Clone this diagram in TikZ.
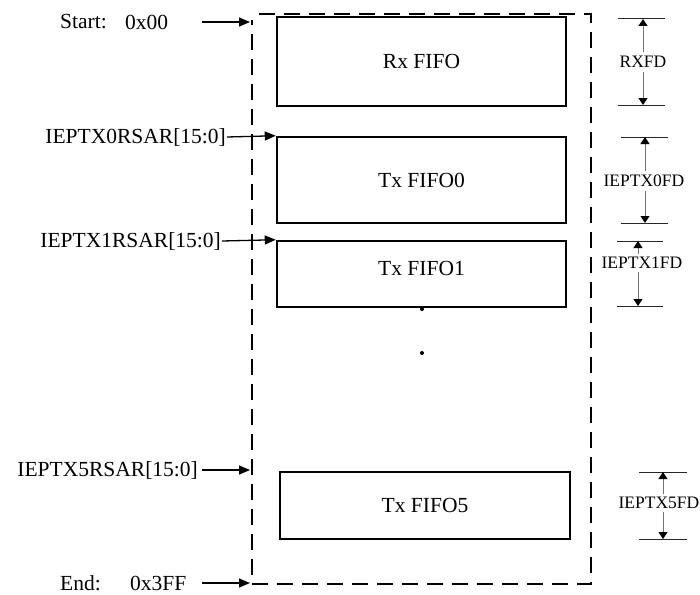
\documentclass[tikz,border=0pt]{standalone}
\usepackage{fontspec}
\setmainfont{Liberation Serif}
\usetikzlibrary{arrows.meta}
\begin{document}
\begin{tikzpicture}[x=1pt,y=-1pt,
  big/.style={font=\fontsize{21.5}{24}\selectfont},
  small/.style={font=\fontsize{17.5}{20}\selectfont},
  fifo/.style={draw, line width=2.5pt, big, inner sep=0pt},
  addr/.style={big, inner sep=1pt},
  frame/.style={line width=2.8pt, dash pattern=on 16pt off 9pt},
  ptr/.style={line width=1.3pt, -{Triangle[length=11pt,width=9pt]}},
  dimline/.style={line width=1pt, black!85},
  dimarr/.style={line width=1pt, black!55, -{Triangle[length=7pt,width=9pt,color=black]}},
  dimlab/.style={small, inner sep=4pt}]
\useasboundingbox (0,0) rectangle (700,594);

% dashed frame
\draw[frame] (259,14) -- (591,14) -- (591,584) -- (252,584) -- (252,20);

% FIFO boxes
\node[fifo, minimum width=289pt, minimum height=89pt] (rx) at (421.5,61.5) {Rx FIFO};
\node[fifo, minimum width=289pt, minimum height=86pt] (tx0) at (421.5,180) {Tx FIFO0};
\node[fifo, minimum width=289pt, minimum height=66pt] (tx1) at (421.5,274) {};
\node[big] (tx1t) at (421.5,268) {Tx FIFO1};
\node[fifo, minimum width=290pt, minimum height=67pt] (tx5) at (425,505.5) {Tx FIFO5};

% dots
\fill (422,309) circle (2pt) coordinate (d1);
\fill (422,353) circle (2pt) coordinate (d2);

% left labels and arrows
\node[addr, anchor=west] (st1) at (59,22) {Start:};
\node[addr, anchor=west] (st2) at (124,22) {0x00};
\coordinate (stA) at (202,22);
\coordinate (stB) at (250,22);
\draw[ptr] (stA) -- (stB);

\node[addr, anchor=east] (l0) at (227,137) {IEPTX0RSAR[15:0]};
\draw[ptr] (l0.east) -- (tx0.north west);

\node[addr, anchor=east] (l1) at (222,241) {IEPTX1RSAR[15:0]};
\draw[ptr] (l1.east) -- (tx1.north west);

\node[addr, anchor=east] (l5) at (199,470) {IEPTX5RSAR[15:0]};
\coordinate (l5B) at (250,470);
\draw[ptr] (l5.east) ++(3,0) -- (l5B);

\node[addr, anchor=west] (en1) at (59,583) {End:};
\node[addr, anchor=west] (en2) at (129,583) {0x3FF};
\coordinate (enA) at (202,583);
\coordinate (enB) at (250,583);
\draw[ptr] (enA) -- (enB);

% dimension markers
% RXFD
\coordinate (r1a) at (618,19); \coordinate (r1b) at (665,19);
\coordinate (r2a) at (618,105); \coordinate (r2b) at (665,105);
\draw[dimline] (r1a) -- (r1b);
\draw[dimline] (r2a) -- (r2b);
\node[dimlab] (rxfd) at (643,62) {RXFD};
\draw[dimarr] (rxfd.north) -- (643,19);
\draw[dimarr] (rxfd.south) -- (643,105);

% IEPTX0FD
\draw[dimline] (621,137) -- (668,137);
\draw[dimline] (621,223) -- (668,223);
\node[dimlab] (fd0) at (644,181) {IEPTX0FD};
\draw[dimarr] (fd0.north -| 645,0) -- (645,137);
\draw[dimarr] (fd0.south -| 645,0) -- (645,223);

% IEPTX1FD
\draw[dimline] (617,241) -- (663,241);
\draw[dimline] (617,306) -- (663,306);
\node[dimlab, inner sep=3pt] (fd1) at (642,263) {IEPTX1FD};
\draw[dimarr] (fd1.north -| 638,0) -- (638,241);
\draw[dimarr] (fd1.south -| 638,0) -- (638,306);

% IEPTX5FD
\draw[dimline] (639,472) -- (687,472);
\draw[dimline] (639,539) -- (687,539);
\node[dimlab, inner sep=3pt] (fd5) at (659,503) {IEPTX5FD};
\draw[dimarr] (fd5.north -| 663,0) -- (663,472);
\draw[dimarr] (fd5.south -| 663,0) -- (663,539);
\end{tikzpicture}
\end{document}
